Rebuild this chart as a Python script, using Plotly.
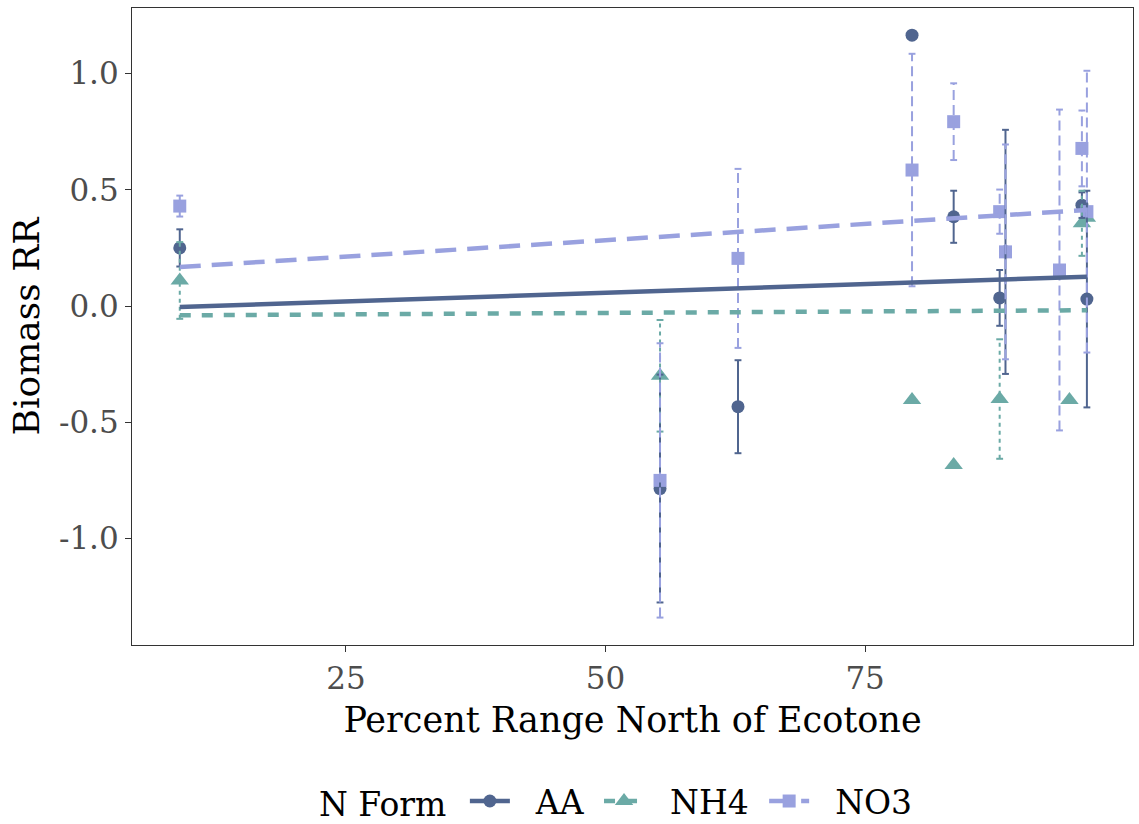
import plotly.graph_objects as go

# ---------------- data ----------------
aa_x = [9.0, 55.25, 62.76, 79.52, 83.53, 87.96, 88.52, 95.88, 96.36]
aa_y = [0.25, -0.785, -0.433, 1.165, 0.384, 0.035, 0.233, 0.434, 0.03]
aa_e = [0.08, 0.49, 0.20, 0.0, 0.112, 0.12, 0.525, 0.055, 0.466]

nh4_x = [9.0, 55.25, 79.52, 83.53, 87.96, 94.68, 95.88, 96.36]
nh4_y = [0.11, -0.30, -0.404, -0.684, -0.40, -0.404, 0.356, 0.38]
nh4_e = [0.165, 0.24, 0.0, 0.0, 0.257, 0.0, 0.14, 0.0]

no3_x = [9.0, 55.25, 62.76, 79.52, 83.53, 87.96, 88.52, 93.72, 95.88, 96.36]
no3_y = [0.43, -0.75, 0.205, 0.585, 0.793, 0.406, 0.233, 0.155, 0.678, 0.406]
no3_e = [0.045, 0.59, 0.385, 0.5, 0.165, 0.095, 0.462, 0.69, 0.163, 0.606]

# fitted (linear) trend lines, end points
fit_x = [9.0, 96.36]
fit_aa = [-0.004, 0.126]
fit_nh4 = [-0.040, -0.018]
fit_no3 = [0.168, 0.413]

groups = ["AA", "NH4", "NO3"]
x_ticks = [25, 50, 75]
y_ticks = [-1.0, -0.5, 0.0, 0.5, 1.0]
y_tick_labels = ["-1.0", "-0.5", "0.0", "0.5", "1.0"]

# ---------------- styles ----------------
C_AA = "#50658F"
C_NH4 = "#6BAAA6"
C_NO3 = "#99A1DF"
FONT = "DejaVu Serif"
NB = "\u00a0"

styles = {
    "AA": dict(color=C_AA, symbol="circle", size=13, fit_dash="solid", eb_dash="solid"),
    "NH4": dict(color=C_NH4, symbol="triangle-up", size=16, fit_dash="11px,11px", eb_dash="4px,4px"),
    "NO3": dict(color=C_NO3, symbol="square", size=13, fit_dash="21px,11px", eb_dash="10px,5px"),
}
data = {
    "AA": (aa_x, aa_y, aa_e, fit_aa),
    "NH4": (nh4_x, nh4_y, nh4_e, fit_nh4),
    "NO3": (no3_x, no3_y, no3_e, fit_no3),
}
CAP = 0.33  # half width of error-bar caps in x units

fig = go.Figure()

# points
for g in groups:
    x, y, e, f = data[g]
    s = styles[g]
    fig.add_trace(go.Scatter(
        x=x, y=y, mode="markers", showlegend=False, hoverinfo="skip",
        marker=dict(color=s["color"], symbol=s["symbol"], size=s["size"], line=dict(width=0)),
    ))

# error bars (stems dashed per group, caps solid)
for g in groups:
    x, y, e, f = data[g]
    s = styles[g]
    for xi, yi, ei in zip(x, y, e):
        if ei <= 0:
            continue
        lo, hi = yi - ei, yi + ei
        fig.add_trace(go.Scatter(
            x=[xi, xi], y=[lo, hi], mode="lines", showlegend=False, hoverinfo="skip",
            line=dict(color=s["color"], width=2, dash=s["eb_dash"]),
        ))
        fig.add_trace(go.Scatter(
            x=[xi - CAP, xi + CAP, None, xi - CAP, xi + CAP],
            y=[lo, lo, None, hi, hi], mode="lines", showlegend=False, hoverinfo="skip",
            line=dict(color=s["color"], width=2),
        ))

# trend lines
for g in groups:
    x, y, e, f = data[g]
    s = styles[g]
    fig.add_trace(go.Scatter(
        x=fit_x, y=f, mode="lines", showlegend=False, hoverinfo="skip",
        line=dict(color=s["color"], width=4.5, dash=s["fit_dash"]),
    ))

# legend entries
for g in groups:
    s = styles[g]
    fig.add_trace(go.Scatter(
        x=[None], y=[None], mode="lines+markers", name=NB * 2 + g + NB,
        line=dict(color=s["color"], width=4.5, dash=s["fit_dash"]),
        marker=dict(color=s["color"], symbol=s["symbol"], size=s["size"]),
    ))

axis_common = dict(
    showgrid=False, zeroline=False, showline=True, mirror=True,
    linecolor="#333333", linewidth=1.2, automargin=False,
    ticks="outside", ticklen=6, tickwidth=1.2, tickcolor="#333333",
    tickfont=dict(family=FONT, size=31, color="#4D4D4D"),
)

fig.update_layout(
    width=1139, height=824,
    margin=dict(l=132, r=6, t=8, b=179, autoexpand=False),
    paper_bgcolor="white", plot_bgcolor="white",
    font=dict(family=FONT, color="black"),
    xaxis=dict(
        range=[4.4, 100.8], tickvals=x_ticks, ticktext=[str(t) for t in x_ticks],
        title=dict(text="Percent Range North of Ecotone", font=dict(family=FONT, size=35, color="black"), standoff=12),
        **axis_common,
    ),
    yaxis=dict(
        range=[-1.458, 1.282], tickvals=y_ticks, ticktext=y_tick_labels,
        title=dict(text="Biomass RR", font=dict(family=FONT, size=36, color="black"), standoff=8),
        **axis_common,
    ),
    legend=dict(
        orientation="h", x=0.49, xanchor="center", y=-0.245, yanchor="middle",
        title=dict(text="N Form" + NB, side="left", font=dict(family=FONT, size=33, color="black")),
        font=dict(family=FONT, size=33, color="black"),
        itemwidth=40, bgcolor="rgba(0,0,0,0)",
    ),
)

fig.write_html("out.html")
